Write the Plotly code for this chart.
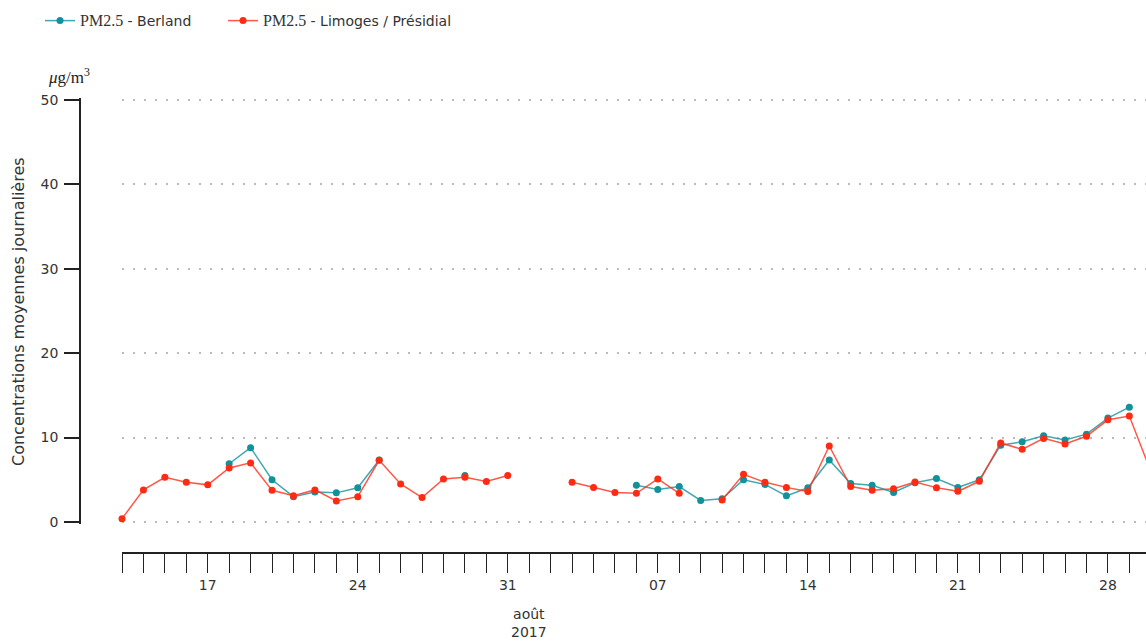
import plotly.graph_objects as go
import pandas as pd

dates = pd.date_range("2017-07-13", "2017-08-30", freq="D").strftime("%Y-%m-%d").tolist()

berland = [
    None, None, None, None, None,            # Jul 13-17
    6.9, 8.8, 5.0, 3.0, 3.55, 3.45, 4.05, 7.35,  # Jul 18-25
    None, None, None,                        # Jul 26-28
    5.5,                                     # Jul 29
    None, None,                              # Jul 30-31
    None, None, None, None, None,            # Aug 1-5
    4.35, 3.85, 4.2, 2.55, 2.75, 5.0, 4.45, 3.1, 4.05, 7.35,  # Aug 6-15
    4.55, 4.35, 3.5, 4.65, 5.15, 4.1, 5.0,   # Aug 16-22
    9.1, 9.5, 10.2, 9.7, 10.4, 12.3, 13.6,   # Aug 23-29
    None,                                    # Aug 30
]

limoges = [
    0.4, 3.8, 5.3, 4.7, 4.4, 6.4, 7.0, 3.75, 3.1, 3.8,   # Jul 13-22
    2.5, 3.0, 7.3, 4.5, 2.9, 5.1, 5.3, 4.8, 5.5,         # Jul 23-31
    None, None,                                          # Aug 1-2
    4.7, 4.1, 3.5, 3.4, 5.1, 3.4,                        # Aug 3-8
    None,                                                # Aug 9
    2.6, 5.65, 4.7, 4.1, 3.6, 9.0, 4.2, 3.75, 3.95,      # Aug 10-18
    4.74, 4.07, 3.63, 4.82, 9.36, 8.6, 9.9, 9.25, 10.15, # Aug 19-27
    12.1, 12.55, 6.0,                                    # Aug 28-30
]

name_b = '<span style="font-family:Liberation Serif;font-size:16px">PM2.5</span> - Berland'
name_l = '<span style="font-family:Liberation Serif;font-size:16px">PM2.5</span> - Limoges / Présidial'

fig = go.Figure()
fig.add_trace(go.Scatter(
    x=dates, y=berland, name=name_b, mode="lines+markers", legend="legend",
    line=dict(color="rgba(18,146,156,0.8)", width=1.5),
    marker=dict(color="#10929b", size=7),
    connectgaps=False, cliponaxis=False,
))
fig.add_trace(go.Scatter(
    x=dates, y=limoges, name=name_l, mode="lines+markers", legend="legend2",
    line=dict(color="rgba(255,45,25,0.8)", width=1.5),
    marker=dict(color="#ff2a12", size=7),
    connectgaps=False, cliponaxis=False,
))

W, H = 1146, 642
L, R, T, B = 80, 0, 98, 89
pw = W - L - R
ph = H - T - B
y0_px = 523.7  # pixel of range bottom (-0.2)

leg_common = dict(
    orientation="h", xref="container", yref="container",
    y=1 - 5 / H, xanchor="left", yanchor="top",
    font=dict(size=14, color="#333"), bgcolor="rgba(0,0,0,0)",
)

fig.update_layout(
    width=W, height=H,
    margin=dict(l=L, r=R, t=T, b=B, autoexpand=False),
    paper_bgcolor="white", plot_bgcolor="white",
    font=dict(family="DejaVu Sans", size=14, color="#333"),
    showlegend=True,
    legend=dict(x=40 / W, **leg_common),
    legend2=dict(x=223 / W, **leg_common),
    xaxis=dict(
        type="date", domain=[(122 - L) / pw, 1], anchor="free", position=0,
        range=["2017-07-13", "2017-08-29 18:40"],
        showline=True, linecolor="#222", linewidth=1.5,
        ticks="outside", ticklen=19, tickcolor="#222", tickwidth=1.2,
        dtick=7 * 86400000, tick0="2017-07-17", tickformat="%d",
        minor=dict(dtick=86400000, ticklen=19, tickcolor="#222", tickwidth=1.2, ticks="outside", showgrid=False),
        showgrid=False, zeroline=False,
        tickfont=dict(size=14, color="#333"),
    ),
    yaxis=dict(
        domain=[(553 - y0_px) / ph, 1], anchor="free", position=0,
        range=[-0.2, 50.2], tickvals=[0, 10, 20, 30, 40, 50],
        showline=True, linecolor="#222", linewidth=1.5,
        ticks="outside", ticklen=15, tickcolor="#222", tickwidth=1.5,
        ticklabelstandoff=3,
        showgrid=True, gridcolor="#bbbbbb", gridwidth=1.5, griddash="2px,9px",
        zeroline=False,
        tickfont=dict(size=14, color="#333"),
    ),
    annotations=[
        dict(text="Concentrations moyennes journalières", textangle=-90,
             xref="paper", yref="paper", x=(18 - L) / pw, y=(553 - 312) / ph,
             xanchor="center", yanchor="middle", showarrow=False,
             font=dict(size=16, color="#333", family="DejaVu Sans")),
        dict(text="<i>μ</i>g/m<sup>3</sup>",
             xref="paper", yref="paper", x=(69 - L) / pw, y=(553 - 76) / ph,
             xanchor="center", yanchor="middle", showarrow=False,
             font=dict(size=17, color="#222", family="Liberation Serif")),
        dict(text="août<br>2017",
             xref="x", yref="paper", x="2017-08-01", y=(553 - 623) / ph,
             xanchor="center", yanchor="middle", showarrow=False,
             font=dict(size=14, color="#333", family="DejaVu Sans")),
    ],
)

fig.write_html(
    "out.html",
    config={"displayModeBar": False},
    post_script="document.body.style.margin='0';document.body.style.overflow='hidden';",
)
